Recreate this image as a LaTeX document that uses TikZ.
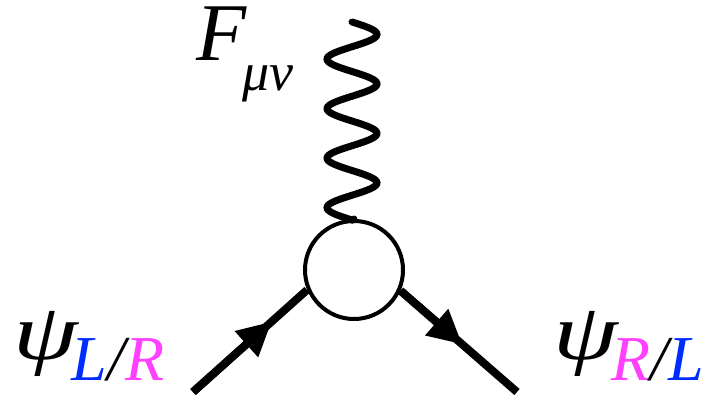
\documentclass[tikz,border=0pt]{standalone}
\usepackage{fontspec}
\setmainfont{Liberation Serif}
\usetikzlibrary{arrows.meta,calc}
\definecolor{quiralL}{RGB}{0,45,255}
\definecolor{quiralR}{RGB}{255,64,255}

\begin{document}
\begin{tikzpicture}[x=1pt, y=-1pt,
    fermiao/.style={line width=8pt},
    seta/.style={fermiao, -{Triangle[length=34pt,width=33pt]}},
    foton/.style={line width=7pt, line cap=round},
    vertice/.style={circle, draw, line width=4pt, minimum size=98pt, inner sep=0pt},
    rotulo/.style={anchor=base west, inner sep=0pt}]
    \useasboundingbox (0,0) rectangle (711,398);

    % --- vertice efetivo ---
    \node[vertice] (V) at (354,270) {};

    % --- pontas livres das linhas externas ---
    \coordinate (Ftopo) at (352,22);
    \coordinate (psiIn) at (193,392);
    \coordinate (psiOut) at (517,392);

    % foton (campo F): senoide de 4 periodos ate o topo do vertice
    \draw[foton, shift={(Ftopo)}]
      plot[domain=0:198, samples=160, smooth] ({25*sin(\x/49.5*360)}, \x) -- (V.north);
    % fermions entrando / saindo (seta no meio da linha)
    \draw[fermiao] (psiIn) -- (V.203.5);
    \draw[seta] (psiIn) -- ($(psiIn)!0.69!(V.203.5)$);
    \draw[fermiao] (V.336.5) -- (psiOut);
    \draw[seta] (V.336.5) -- ($(V.336.5)!0.53!(psiOut)$);

    % --- rotulos ---
    \node[rotulo] (Flbl) at (196,61)
      {\fontsize{82}{82}\selectfont\itshape F\kern-4pt\raisebox{-30pt}{\fontsize{54}{54}\selectfont μν}};
    \node[rotulo] (psiLlbl) at (13,359)
      {\fontsize{80}{80}\selectfont\itshape\scalebox{1.3}[1]{ψ}\kern-6pt\raisebox{-21pt}{\fontsize{64}{64}\selectfont
        \textcolor{quiralL}{L}/\textcolor{quiralR}{R}}};
    \node[rotulo] (psiRlbl) at (553,359)
      {\fontsize{80}{80}\selectfont\itshape\scalebox{1.3}[1]{ψ}\kern-6pt\raisebox{-21pt}{\fontsize{64}{64}\selectfont
        \textcolor{quiralR}{R}/\textcolor{quiralL}{L}}};
  \end{tikzpicture}
\end{document}
